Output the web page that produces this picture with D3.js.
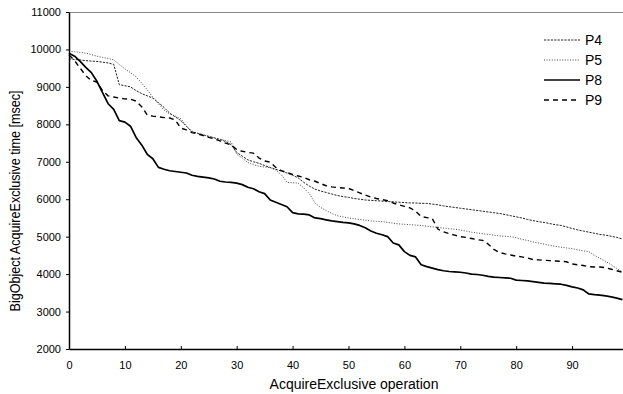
<!DOCTYPE html>
<html>
<head>
<meta charset="utf-8">
<script src="https://cdn.jsdelivr.net/npm/d3@7"></script>
<style>
  body { margin: 0; background: #fff; }
  text { font-family: "Liberation Sans", Arial, sans-serif; fill: #000; }
</style>
</head>
<body>
<div id="graph"></div>
<script>
// values, one per operation 0..99
const p4 = [9750,9730,9720,9700,9690,9680,9660,9640,9600,9060,
  9030,9000,8900,8820,8760,8700,8580,8450,8300,8200,
  8100,7950,7800,7760,7720,7680,7640,7600,7540,7460,
  7250,7150,7050,7000,6960,6900,6850,6800,6750,6700,
  6640,6570,6450,6350,6270,6220,6180,6140,6100,6070,
  6050,6020,6000,5980,5970,5960,5950,5940,5930,5920,
  5910,5900,5900,5890,5890,5870,5850,5820,5800,5780,
  5760,5740,5720,5700,5680,5660,5640,5620,5590,5560,
  5530,5500,5460,5430,5400,5380,5350,5320,5300,5260,
  5220,5180,5150,5120,5090,5060,5040,5010,4980,4940];

const p5 = [9950,9940,9920,9900,9860,9820,9790,9760,9720,9600,
  9480,9380,9270,9100,8920,8720,8550,8380,8280,8220,
  8150,7950,7820,7760,7720,7670,7630,7600,7570,7530,
  7200,7100,6980,6920,6880,6860,6840,6780,6650,6450,
  6440,6430,6300,6150,5900,5780,5700,5620,5560,5530,
  5500,5480,5460,5440,5420,5410,5400,5380,5360,5340,
  5330,5320,5310,5300,5280,5260,5250,5230,5210,5200,
  5180,5150,5120,5100,5080,5060,5040,5020,5010,5000,
  4970,4930,4900,4860,4830,4800,4770,4740,4720,4700,
  4680,4650,4620,4600,4500,4420,4340,4250,4150,4050];

const p8 = [9900,9820,9680,9520,9380,9150,8850,8550,8400,8100,
  8060,7950,7650,7450,7200,7080,6850,6800,6760,6740,
  6720,6700,6640,6610,6590,6570,6540,6480,6460,6450,
  6430,6390,6320,6280,6200,6150,5980,5920,5860,5800,
  5640,5610,5600,5580,5500,5480,5450,5420,5400,5380,
  5370,5340,5300,5240,5150,5090,5050,5000,4830,4780,
  4600,4500,4460,4250,4200,4160,4120,4090,4070,4060,
  4050,4030,4000,3990,3970,3940,3920,3910,3900,3890,
  3840,3830,3820,3800,3780,3760,3750,3740,3730,3700,
  3660,3630,3580,3470,3450,3440,3420,3390,3360,3320];

const p9 = [9850,9700,9500,9300,9170,9130,8900,8760,8730,8700,
  8680,8670,8620,8470,8250,8220,8200,8180,8170,8120,
  7900,7850,7780,7750,7700,7650,7610,7560,7500,7450,
  7330,7280,7250,7230,7100,7020,6990,6850,6760,6720,
  6660,6620,6580,6520,6480,6420,6360,6330,6310,6300,
  6290,6230,6170,6110,6060,6020,5990,5960,5900,5850,
  5810,5770,5680,5540,5510,5480,5200,5130,5080,5040,
  5000,4980,4950,4920,4900,4800,4660,4580,4540,4510,
  4480,4460,4430,4390,4380,4370,4360,4350,4340,4330,
  4270,4250,4230,4200,4190,4190,4170,4130,4090,4050];

const seriesNames = ["P4", "P5", "P8", "P9"];
const xTicks = [0, 10, 20, 30, 40, 50, 60, 70, 80, 90];
const yTicks = [2000, 3000, 4000, 5000, 6000, 7000, 8000, 9000, 10000, 11000];

// line styles per series
const styles = {
  P4: { dash: "2.2,1.2", width: 1, color: "#222" },
  P5: { dash: "1,1.6", width: 1, color: "#444" },
  P8: { dash: null, width: 1.7, color: "#000" },
  P9: { dash: "5,4", width: 1.4, color: "#000" }
};
const seriesData = { P4: p4, P5: p5, P8: p8, P9: p9 };

let width = 623, height = 394;
let margin = { left: 69, right: 622.4, top: 12, bottom: 349 };

let svg = d3.select("#graph")
  .append("svg")
  .attr("width", width)
  .attr("height", height);

let x = d3.scaleLinear().domain([0, 99]).range([margin.left, margin.right]);
let y = d3.scaleLinear().domain([2000, 11000]).range([margin.bottom, margin.top]);

// top frame line
svg.append("line")
  .attr("x1", margin.left).attr("x2", width)
  .attr("y1", margin.top + 0.5).attr("y2", margin.top + 0.5)
  .attr("stroke", "#888").attr("stroke-width", 1);

// lines
let line = d3.line()
  .x((d, i) => x(i))
  .y(d => y(d));

seriesNames.forEach(name => {
  let s = styles[name];
  svg.append("path")
    .datum(seriesData[name])
    .attr("d", line)
    .attr("fill", "none")
    .attr("stroke", s.color)
    .attr("stroke-width", s.width)
    .attr("stroke-dasharray", s.dash)
    .attr("stroke-linejoin", "round");
});

// y axis
let yAxis = svg.append("g")
  .attr("transform", "translate(" + margin.left + ",0)")
  .call(d3.axisLeft(y).tickValues(yTicks).tickFormat(d3.format("d"))
    .tickSize(3).tickPadding(5).tickSizeOuter(0));
yAxis.select(".domain").attr("stroke", "#000").attr("stroke-width", 1.5);
yAxis.selectAll("text").style("font-size", "11px");

// x axis, ticks point inward
let xAxis = svg.append("g")
  .attr("transform", "translate(0," + margin.bottom + ")")
  .call(d3.axisBottom(x).tickValues(xTicks).tickFormat(d3.format("d"))
    .tickSize(-3).tickPadding(12).tickSizeOuter(0));
xAxis.select(".domain").attr("stroke", "#000").attr("stroke-width", 1.5);
xAxis.selectAll("text").style("font-size", "11px");

// axis titles
svg.append("text")
  .attr("x", 354).attr("y", 389)
  .attr("text-anchor", "middle")
  .style("font-size", "14px")
  .text("AcquireExclusive operation");

// y title is a bit squeezed along its length in the original
svg.append("text")
  .attr("transform", "translate(20,201) rotate(-90) scale(0.9,1)")
  .attr("text-anchor", "middle")
  .style("font-size", "14px")
  .text("BigObject AcquireExclusive time [msec]");

// legend
let legend = svg.append("g");
seriesNames.forEach((name, i) => {
  let s = styles[name];
  let ly = 40 + i * 20;
  legend.append("line")
    .attr("x1", 544).attr("x2", 580)
    .attr("y1", ly).attr("y2", ly)
    .attr("stroke", s.color)
    .attr("stroke-width", s.width)
    .attr("stroke-dasharray", s.dash);
  legend.append("text")
    .attr("x", 585).attr("y", ly + 5)
    .style("font-size", "14px")
    .text(name);
});
</script>
</body>
</html>
